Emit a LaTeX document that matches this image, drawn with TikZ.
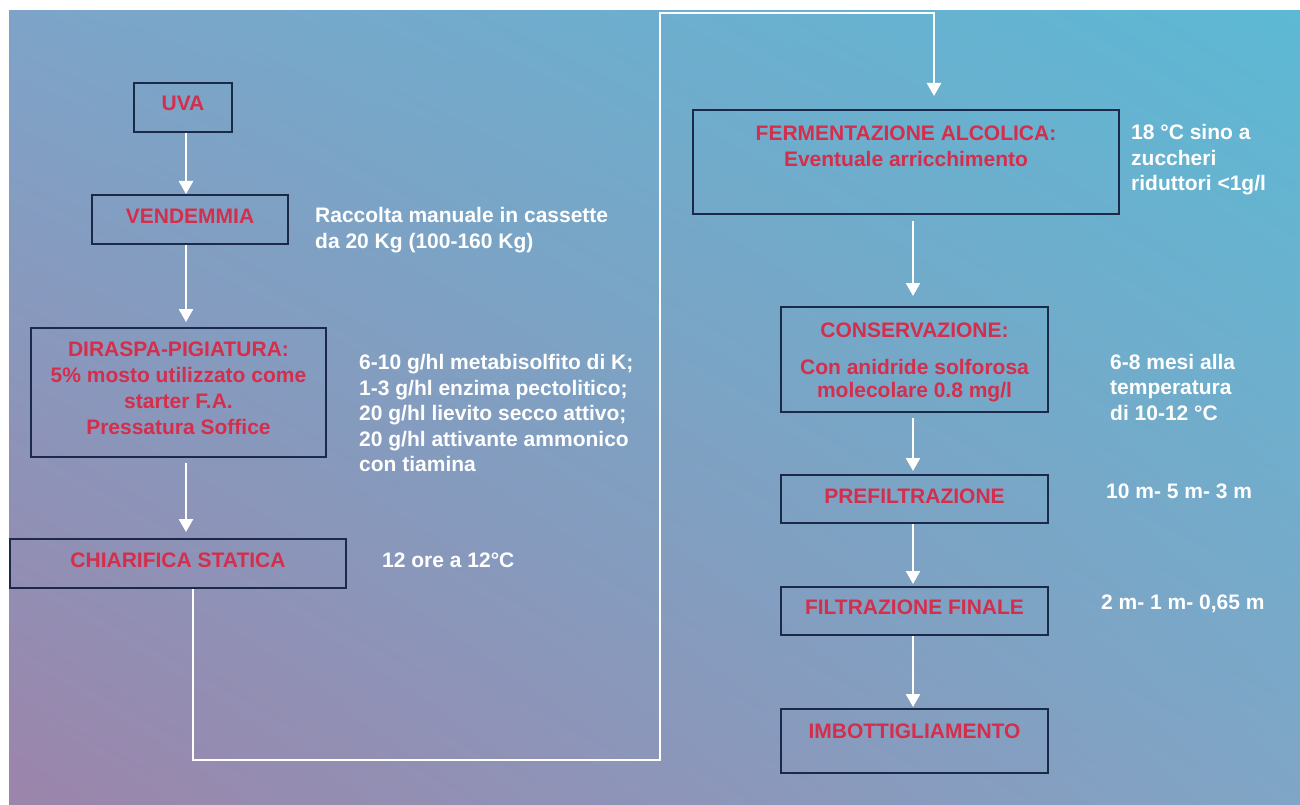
\documentclass[tikz,border=0pt]{standalone}
\usepackage{fontspec}
\setmainfont{Liberation Sans}
\usetikzlibrary{arrows.meta,shadings}
\definecolor{bgLL}{HTML}{9C84AA}
\definecolor{bgUR}{HTML}{5CB9D4}
\definecolor{bgUL}{HTML}{7DA4C8}
\definecolor{bgLR}{HTML}{80A5C6}
\definecolor{boxline}{HTML}{1C2A4A}
\definecolor{redtext}{HTML}{D42E4C}
\begin{document}
\begin{tikzpicture}[x=1pt,y=-1pt,
  box/.style={draw=boxline,line width=2pt,inner sep=0pt},
  redtxt/.style={text=redtext,font=\bfseries\fontsize{21}{26}\selectfont,align=center,inner sep=0pt},
  note/.style={text=white,font=\bfseries\fontsize{21}{25.5}\selectfont,align=left,anchor=west,inner sep=0pt},
  conn/.style={draw=white,line width=2.5pt,-{Triangle[width=14pt,length=13pt]}}]
\useasboundingbox (0,0) rectangle (1300,805);
\fill[white] (0,0) rectangle (1300,805);
\shade[shading=bilinear interpolation, lower left=bgLL, upper right=bgUR, upper left=bgUL, lower right=bgLR] (9,812) rectangle (1308,11);

% boxes
\node[box,minimum width=98pt,minimum height=49pt] (uva) at (183,107.5) {};
\node[box,minimum width=196pt,minimum height=49pt] (vend) at (190,219.5) {};
\node[box,minimum width=295pt,minimum height=129pt] (dir) at (178.5,392.5) {};
\node[box,minimum width=336pt,minimum height=49pt] (chiar) at (178,563.5) {};
\node[box,minimum width=426pt,minimum height=104pt] (ferm) at (906,162) {};
\node[box,minimum width=267pt,minimum height=105pt] (cons) at (914.5,359.5) {};
\node[box,minimum width=267pt,minimum height=48pt] (pref) at (914.5,499) {};
\node[box,minimum width=267pt,minimum height=48pt] (filt) at (914.5,611) {};
\node[box,minimum width=267pt,minimum height=64pt] (imb) at (914.5,741) {};

% box texts
\node[redtxt] (uvat) at (183,103) {UVA};
\node[redtxt] (vendt) at (190,216) {VENDEMMIA};
\node[redtxt] (dirt) at (178.5,388) {DIRASPA-PIGIATURA:\\5\% mosto utilizzato come\\starter F.A.\\Pressatura Soffice};
\node[redtxt] (chiart) at (178,560) {CHIARIFICA STATICA};
\node[redtxt] (fermt) at (906,146) {FERMENTAZIONE ALCOLICA:\\Eventuale arricchimento};
\node[redtxt,font=\bfseries\fontsize{21}{23}\selectfont] (const) at (914.5,362) {CONSERVAZIONE:\\[14pt]Con anidride solforosa\\molecolare 0.8 mg/l};
\node[redtxt] (preft) at (914.5,496) {PREFILTRAZIONE};
\node[redtxt] (filtt) at (914.5,607) {FILTRAZIONE FINALE};
\node[redtxt] (imbt) at (914.5,731) {IMBOTTIGLIAMENTO};

% notes
\node[note] (n1) at (315,230) {Raccolta manuale in cassette\\da 20 Kg (100-160 Kg)};
\node[note] (n2) at (359,413) {6-10 g/hl metabisolfito di K;\\1-3 g/hl enzima pectolitico;\\20 g/hl lievito secco attivo;\\20 g/hl attivante ammonico\\con tiamina};
\node[note] (n3) at (382,560) {12 ore a 12°C};
\node[note] (n4) at (1131,160) {18 °C sino a\\zuccheri\\riduttori <1g/l};
\node[note] (n5) at (1110,387) {6-8 mesi alla\\temperatura\\di 10-12 °C};
\node[note] (n6) at (1106,491) {10 m- 5 m- 3 m};
\node[note] (n7) at (1101,604) {2 m- 1 m- 0,65 m};

% connectors
\coordinate (lx) at (186,0);
\coordinate (rx) at (913,0);
\coordinate (c1) at (193,760);
\coordinate (c2) at (660,760);
\coordinate (c3) at (660,13);
\coordinate (c4) at (934,13);
\draw[conn] (uva.south -| lx) -- (vend.north -| lx);
\draw[conn,shorten >=5pt] (vend.south -| lx) -- (dir.north -| lx);
\draw[conn,shorten <=5pt,shorten >=6pt] (dir.south -| lx) -- (chiar.north -| lx);
\draw[conn,shorten >=13pt] (chiar.south -| c1) -- (c1) -- (c2) -- (c3) -- (c4) -- (ferm.north -| c4);
\draw[conn,shorten <=6pt,shorten >=10pt] (ferm.south -| rx) -- (cons.north -| rx);
\draw[conn,shorten <=5pt,shorten >=3pt] (cons.south -| rx) -- (pref.north -| rx);
\draw[conn,shorten >=2pt] (pref.south -| rx) -- (filt.north -| rx);
\draw[conn,shorten >=1pt] (filt.south -| rx) -- (imb.north -| rx);
\end{tikzpicture}
\end{document}
